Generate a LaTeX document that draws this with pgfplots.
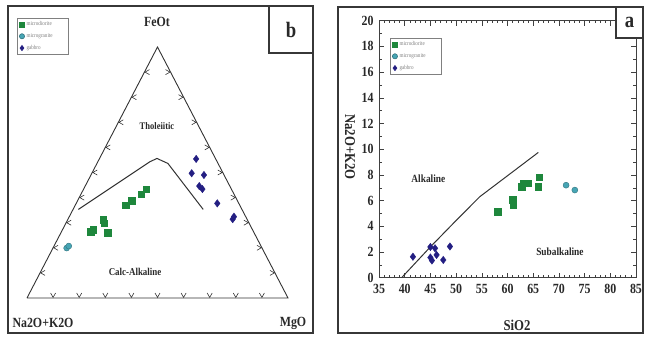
\documentclass[border=0pt]{standalone}
\usepackage{pgfplots}
\pgfplotsset{compat=1.18}
\usepackage{fontspec}
\setmainfont{Liberation Serif}[FakeStretch=0.85]
\definecolor{mdgreen}{RGB}{30,135,60}
\definecolor{mgteal}{RGB}{70,165,180}
\definecolor{gbnavy}{RGB}{35,30,130}
\definecolor{framegray}{RGB}{55,55,55}
\definecolor{txt}{RGB}{40,40,40}
\pgfdeclareplotmark{chevD}{\pgfpathmoveto{\pgfpoint{-2.5pt}{5pt}}\pgfpathlineto{\pgfpoint{0pt}{0.6pt}}\pgfpathlineto{\pgfpoint{2.5pt}{5pt}}\pgfusepathqstroke}
\pgfdeclareplotmark{chevL}{\pgfpathmoveto{\pgfpoint{5pt}{2.5pt}}\pgfpathlineto{\pgfpoint{0.6pt}{0pt}}\pgfpathlineto{\pgfpoint{5pt}{-2.5pt}}\pgfusepathqstroke}
\pgfdeclareplotmark{chevR}{\pgfpathmoveto{\pgfpoint{-5pt}{2.5pt}}\pgfpathlineto{\pgfpoint{-0.6pt}{0pt}}\pgfpathlineto{\pgfpoint{-5pt}{-2.5pt}}\pgfusepathqstroke}
\pgfplotsset{mylegend/.style={legend style={draw=gray, line width=0.6pt,
    font=\fontsize{6}{6.5}\selectfont\color{gray}, inner xsep=2pt, inner ysep=1.5pt,
    row sep=2.2pt, legend cell align=left,
    nodes={text width=38pt, align=left}},
  legend image post style={mark size=2.6pt}}}
\begin{document}
\begin{tikzpicture}[x=1pt,y=1pt]
\path[use as bounding box] (0,0) rectangle (646,-337);
% frames
\draw[line width=2pt, framegray] (8,-6) rectangle (313,-333);
\draw[line width=1.2pt, framegray] (269,-6) rectangle (313,-53);
\node[font=\fontsize{22}{24}\selectfont\bfseries, txt] at (291,-30) {b};
\draw[line width=2pt, framegray] (338,-7) rectangle (643,-333);
% ---------------- ternary (b) ----------------
\begin{axis}[at={(27pt,-298pt)}, anchor=south west, scale only axis,
  width=261pt, height=251pt, xmin=0, xmax=100, ymin=0, ymax=100,
  axis lines=none, clip=false, mylegend,
  legend style={at={(-0.038,1.116)}, anchor=north west}]
\addplot[black!80, line width=0.9pt, forget plot] coordinates {(0,0) (100,0) (50,100) (0,0)};
\addplot[black!80, line width=0.6pt, only marks, mark=chevD, forget plot] coordinates {(10,0) (20,0) (30,0) (40,0) (50,0) (60,0) (70,0) (80,0) (90,0)};
\addplot[black!80, line width=0.6pt, only marks, mark=chevL, forget plot] coordinates {(5,10) (10,20) (15,30) (20,40) (25,50) (30,60) (35,70) (40,80) (45,90)};
\addplot[black!80, line width=0.6pt, only marks, mark=chevR, forget plot] coordinates {(95,10) (90,20) (85,30) (80,40) (75,50) (70,60) (65,70) (60,80) (55,90)};
\addplot[black!80, line width=1pt, forget plot] coordinates {(19.7,35.3) (47.1,54.3) (49.8,55.6) (54.0,53.6) (67.5,35.3)};
\addplot[only marks, mark=square*, mark size=3.3pt, mdgreen] coordinates {
 (24.3,26.5) (25.3,27.3) (29.2,31.1) (29.6,29.8) (31.0,26.1)
 (37.9,36.9) (40.1,38.8) (43.7,41.4) (45.6,43.3)};
\addlegendentry{microdiorite}
\addplot[only marks, mark=*, mark size=3pt, draw=mgteal!70!black, fill=mgteal] coordinates {(15.2,19.9) (16.0,20.7)};
\addlegendentry{microgranite}
\addplot[only marks, mark=diamond*, mark size=3.7pt, gbnavy] coordinates {
 (64.8,55.4) (63.1,49.7) (67.8,49.0) (66.0,44.6) (67.2,43.4)
 (72.9,37.7) (78.8,31.4) (79.3,32.4)};
\addlegendentry{gabbro}
\node[font=\fontsize{10}{12}\selectfont\bfseries, txt] at (axis cs:49.8,68.5) {Tholeiitic};
\node[font=\fontsize{10.5}{12}\selectfont\bfseries, txt] at (axis cs:41.4,10.4) {Calc-Alkaline};
\end{axis}
\node[font=\fontsize{14}{16}\selectfont\bfseries, txt] at (157,-22) {FeOt};
\node[font=\fontsize{14}{16}\selectfont\bfseries, txt] at (43,-323) {Na2O+K2O};
\node[font=\fontsize{14}{16}\selectfont\bfseries, txt] at (293,-323) {MgO};
% ---------------- TAS (a) ----------------
\begin{axis}[at={(379pt,-277.7pt)}, anchor=south west, scale only axis,
  width=257pt, height=257pt, xmin=35, xmax=85, ymin=0, ymax=20,
  xtick={35,40,...,85}, ytick={0,2,...,20},
  minor x tick num=4, minor y tick num=1,
  tick align=inside, major tick length=5pt, minor tick length=2.5pt,
  tick style={black!75, line width=0.5pt},
  axis line style={black!75, line width=0.6pt},
  tick pos=both,
  /pgf/number format/assume math mode=true,
  ticklabel style={font=\fontsize{14}{16}\selectfont\bfseries, text=txt},
  xticklabel style={yshift=-3pt},
  yticklabel style={xshift=-2pt},
  clip=false, mylegend,
  legend style={at={(0.043,0.933)}, anchor=north west}]
\addplot[black!80, line width=1pt, forget plot] coordinates {(39.4,0) (45,2.4) (50,4.45) (54.6,6.3) (66,9.75)};
\addplot[only marks, mark=square*, mark size=3.3pt, mdgreen] coordinates {
 (58.1,5.14) (61.0,6.05) (61.1,5.66) (62.8,7.08) (63.1,7.35) (64.0,7.35)
 (66.0,7.08) (66.2,7.81)};
\addlegendentry{microdiorite}
\addplot[only marks, mark=*, mark size=3pt, draw=mgteal!70!black, fill=mgteal] coordinates {(71.4,7.2) (73.1,6.82)};
\addlegendentry{microgranite}
\addplot[only marks, mark=diamond*, mark size=3.7pt, gbnavy] coordinates {
 (41.6,1.63) (45.0,2.39) (45.9,2.29) (45.0,1.57) (45.3,1.34) (46.2,1.77)
 (47.5,1.38) (48.8,2.43)};
\addlegendentry{gabbro}
\node[font=\fontsize{11}{12}\selectfont\bfseries, txt] at (axis cs:44.6,7.74) {Alkaline};
\node[font=\fontsize{11}{12}\selectfont\bfseries, txt] at (axis cs:70.2,2.02) {Subalkaline};
\end{axis}
\fill[white] (616,-7) rectangle (643,-38);
\draw[line width=1.2pt, framegray] (616,-7) rectangle (643,-38);
\node[font=\fontsize{22}{24}\selectfont\bfseries, txt] at (629.5,-22) {a};
\node[font=\fontsize{15}{16}\selectfont\bfseries, txt] at (517,-325) {SiO2};
\node[font=\fontsize{15}{16}\selectfont\bfseries, txt, rotate=-90] at (350,-147) {Na2O+K2O};
\end{tikzpicture}
\end{document}
